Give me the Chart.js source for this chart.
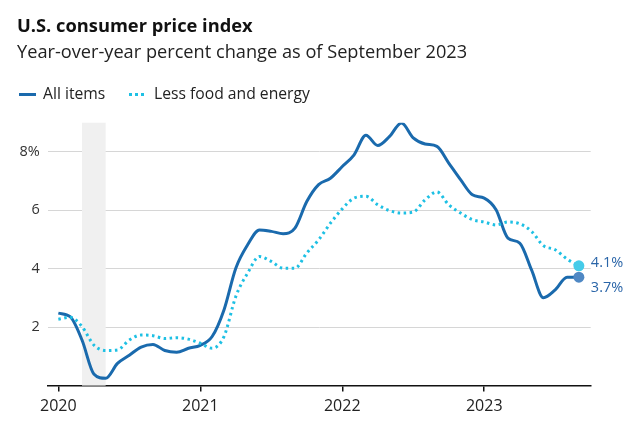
<!DOCTYPE html>
<html>
<head>
<meta charset="utf-8">
<script src="https://cdn.jsdelivr.net/npm/chart.js@4"></script>
<style>
  html, body { margin: 0; padding: 0; background: #fff; }
  body { width: 640px; height: 435px; position: relative; overflow: hidden; font-family: "Open Sans", Lato, sans-serif; }
  #chart-wrap { position: absolute; left: 0; top: 0; width: 640px; height: 435px; }
  .txt { position: absolute; margin: 0; line-height: 1; white-space: nowrap; }
  .title { left: 17px; top: 15.5px; font-size: 18.3px; font-weight: 700; color: #111; }
  .subtitle { left: 17px; top: 42px; font-size: 18.2px; color: #222; }
  .legend-text { top: 86px; font-size: 15.7px; color: #222; }
  .swatch { position: absolute; width: 17px; height: 0; top: 93px; }
  .swatch.solid { left: 19px; border-top: 3px solid #1a6aad; }
  .swatch.dotted { left: 129px; width: 15px; border-top: 3px dotted #1ec0e4; }
</style>
</head>
<body>
<div id="chart-wrap"><canvas id="cpi-chart" width="640" height="435"></canvas></div>
<h1 class="txt title">U.S. consumer price index</h1>
<p class="txt subtitle">Year-over-year percent change as of September 2023</p>
<span class="swatch solid"></span>
<span class="txt legend-text" style="left:43px">All items</span>
<span class="swatch dotted"></span>
<span class="txt legend-text" style="left:154px">Less food and energy</span>
<script>
// Meses desde enero 2020 (0) hasta septiembre 2023 (44)
const months = [
  'Jan 2020','Feb 2020','Mar 2020','Apr 2020','May 2020','Jun 2020','Jul 2020','Aug 2020','Sep 2020','Oct 2020','Nov 2020','Dec 2020',
  'Jan 2021','Feb 2021','Mar 2021','Apr 2021','May 2021','Jun 2021','Jul 2021','Aug 2021','Sep 2021','Oct 2021','Nov 2021','Dec 2021',
  'Jan 2022','Feb 2022','Mar 2022','Apr 2022','May 2022','Jun 2022','Jul 2022','Aug 2022','Sep 2022','Oct 2022','Nov 2022','Dec 2022',
  'Jan 2023','Feb 2023','Mar 2023','Apr 2023','May 2023','Jun 2023','Jul 2023','Aug 2023','Sep 2023'
];

const allItems = [
  2.48, 2.36, 1.56, 0.40, 0.25, 0.76, 1.04, 1.32, 1.41, 1.20, 1.14, 1.28,
  1.38, 1.68, 2.59, 4.02, 4.82, 5.33, 5.28, 5.20, 5.39, 6.30, 6.88, 7.10,
  7.50, 7.90, 8.57, 8.22, 8.53, 8.99, 8.48, 8.27, 8.19, 7.62, 7.05, 6.53,
  6.42, 6.02, 5.05, 4.88, 3.96, 3.01, 3.28, 3.71, 3.71
];

const lessFoodEnergy = [
  2.27, 2.34, 2.02, 1.39, 1.20, 1.22, 1.56, 1.73, 1.71, 1.61, 1.64, 1.59,
  1.45, 1.28, 1.68, 3.05, 3.85, 4.42, 4.25, 4.02, 4.02, 4.54, 4.99, 5.56,
  6.05, 6.42, 6.48, 6.19, 5.99, 5.91, 5.94, 6.36, 6.63, 6.19, 5.91, 5.68,
  5.60, 5.50, 5.60, 5.54, 5.28, 4.79, 4.65, 4.33, 4.10
];

const yearTicks = [0, 12, 24, 36];
const yearLabels = ['2020', '2021', '2022', '2023'];
const yTicks = [2, 4, 6, 8];
const recession = [2, 4]; // mar-abr 2020

const lastIdx = months.length - 1;
const fontFamily = '"Open Sans", Lato, sans-serif';

// Sombreado de recesión
const recessionPlugin = {
  id: 'recession',
  beforeDatasetsDraw(chart) {
    const { ctx, chartArea, scales } = chart;
    const x1 = scales.x.getPixelForValue(recession[0]);
    const x2 = scales.x.getPixelForValue(recession[1]);
    ctx.save();
    ctx.fillStyle = '#f0f0f0';
    ctx.fillRect(x1, chartArea.top, x2 - x1, chartArea.bottom - chartArea.top);
    ctx.restore();
  }
};

// Etiquetas de valor al final de cada línea
const endLabelPlugin = {
  id: 'endLabels',
  afterDatasetsDraw(chart) {
    const { ctx } = chart;
    ctx.save();
    ctx.font = '14.5px ' + fontFamily;
    ctx.fillStyle = '#2a65a8';
    ctx.textBaseline = 'middle';
    ctx.textAlign = 'left';
    chart.data.datasets.forEach((ds, i) => {
      const pt = chart.getDatasetMeta(i).data[lastIdx];
      const offset = i === 0 ? 11 : -3;
      ctx.fillText(ds.data[lastIdx].y.toFixed(1) + '%', pt.x + 12, pt.y + offset);
    });
    ctx.restore();
  }
};

const toPoints = arr => arr.map((v, i) => ({ x: i, y: v }));

const ctx = document.getElementById('cpi-chart').getContext('2d');
const chart = new Chart(ctx, {
  type: 'line',
  data: {
    datasets: [
      {
        label: 'All items',
        data: toPoints(allItems),
        borderColor: '#1a6aad',
        borderWidth: 3,
        cubicInterpolationMode: 'monotone',
        pointRadius: c => c.dataIndex === lastIdx ? 5.5 : 0,
        pointBackgroundColor: '#4f88c4',
        pointBorderWidth: 0,
        order: 2
      },
      {
        label: 'Less food and energy',
        data: toPoints(lessFoodEnergy),
        borderColor: '#1ec0e4',
        borderWidth: 3,
        borderDash: [2.5, 3.5],
        cubicInterpolationMode: 'monotone',
        pointRadius: c => c.dataIndex === lastIdx ? 5.5 : 0,
        pointBackgroundColor: '#45cbe9',
        pointBorderWidth: 0,
        order: 1
      }
    ]
  },
  options: {
    responsive: false,
    animation: false,
    layout: { padding: { top: 122.7, right: 49.3, left: 0, bottom: 0 } },
    plugins: {
      legend: { display: false },
      tooltip: { enabled: false }
    },
    scales: {
      x: {
        type: 'linear',
        min: -0.9,
        max: 45,
        afterBuildTicks: scale => { scale.ticks = yearTicks.map(v => ({ value: v })); },
        afterFit: scale => { scale.height = 49.4; },
        ticks: {
          callback: v => yearLabels[yearTicks.indexOf(v)],
          color: '#222',
          font: { size: 16, family: fontFamily },
          padding: 5,
          maxRotation: 0
        },
        grid: { drawOnChartArea: false, drawTicks: true, tickLength: 6, color: '#111', lineWidth: 1.5 },
        border: { display: true, color: '#111', width: 1.5 }
      },
      y: {
        min: 0,
        max: 9,
        afterBuildTicks: scale => { scale.ticks = yTicks.map(v => ({ value: v })); },
        afterFit: scale => { scale.width = 47.7; },
        ticks: {
          callback: v => v === 8 ? v + '%' : String(v),
          color: '#333',
          font: { size: 14.5, family: fontFamily },
          padding: 8
        },
        grid: { drawTicks: false, color: '#d6d6d6', lineWidth: 1 },
        border: { display: false }
      }
    }
  },
  plugins: [recessionPlugin, endLabelPlugin]
});
</script>
</body>
</html>
